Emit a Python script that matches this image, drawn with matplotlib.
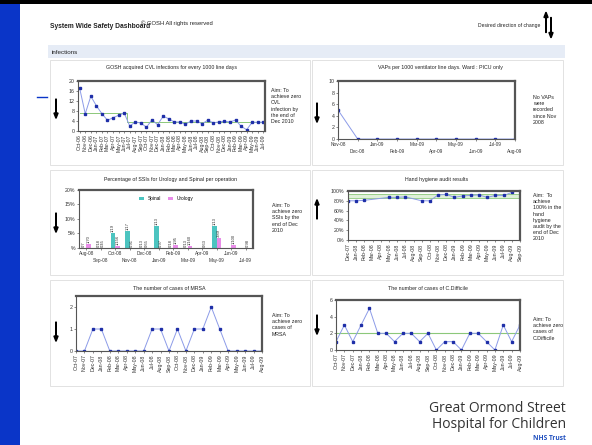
import numpy as np
import matplotlib
matplotlib.use('Agg')
from matplotlib import pyplot as plt
from matplotlib.patches import Rectangle, FancyArrow

plt.rcParams['font.family'] = ['Liberation Sans', 'DejaVu Sans']

W, H = 592, 445

# data
cvl_months = ['Oct-06', 'Nov-06', 'Dec-06', 'Jan-07', 'Feb-07', 'Mar-07', 'Apr-07', 'May-07',
              'Jun-07', 'Jul-07', 'Aug-07', 'Sep-07', 'Oct-07', 'Nov-07', 'Dec-07', 'Jan-08',
              'Feb-08', 'Mar-08', 'Apr-08', 'May-08', 'Jun-08', 'Jul-08', 'Aug-08', 'Sep-08',
              'Oct-08', 'Nov-08', 'Dec-08', 'Jan-09', 'Feb-09', 'Mar-09', 'Apr-09', 'May-09',
              'Jun-09', 'Jul-09']
cvl_rate = [17.1, 6.9, 13.9, 10.1, 6.9, 4.3, 5.3, 6.3, 7.2, 2.0, 3.6, 3.2, 1.5, 4.5, 2.5, 5.9,
            4.9, 3.6, 3.6, 2.7, 4.0, 4.0, 2.9, 4.3, 3.3, 3.6, 3.9, 3.6, 4.4, 1.9, 0.5, 3.5,
            3.5, 3.5]
cvl_mean = [7.0] * 9 + [3.5] * 25

vap_months = ['Nov-08', 'Dec-08', 'Jan-09', 'Feb-09', 'Mar-09', 'Apr-09', 'May-09', 'Jun-09',
              'Jul-09', 'Aug-09']
vap_rate = [5, 0, 0, 0, 0, 0, 0, 0, 0, 0]

ssi_months = ['Aug-08', 'Sep-08', 'Oct-08', 'Nov-08', 'Dec-08', 'Jan-09', 'Feb-09', 'Mar-09',
              'Apr-09', 'May-09', 'Jun-09', 'Jul-09']
spinal_inf = [0, 0, 1, 1, 0, 1, 0, 0, 0, 1, 0, 0]
spinal_ops = [7, 18, 19, 17, 13, 13, 18, 13, 0, 13, 0, 0]
uro_inf = [1, 0, 1, 0, 0, 0, 1, 1, 0, 3, 1, 0]
uro_ops = [70, 45, 156, 91, 65, 97, 95, 160, 63, 89, 100, 98]

hh_months = ['Dec-07', 'Jan-08', 'Feb-08', 'Mar-08', 'Apr-08', 'May-08', 'Jun-08', 'Jul-08',
             'Aug-08', 'Sep-08', 'Oct-08', 'Nov-08', 'Dec-08', 'Jan-09', 'Feb-09', 'Mar-09',
             'Apr-09', 'May-09', 'Jun-09', 'Jul-09', 'Aug-09', 'Sep-09']
hh_score = [80, 80, 81, None, None, 87, 87, 88, None, 80, 80, 92, 93, 87, 90, 91, 92, 87,
            91, 91, 97, None]
hh_band = (85, 93)

mrsa_months = ['Oct-07', 'Nov-07', 'Dec-07', 'Jan-08', 'Feb-08', 'Mar-08', 'Apr-08', 'May-08',
               'Jun-08', 'Jul-08', 'Aug-08', 'Sep-08', 'Oct-08', 'Nov-08', 'Dec-08', 'Jan-09',
               'Feb-09', 'Mar-09', 'Apr-09', 'May-09', 'Jun-09', 'Jul-09', 'Aug-09']
mrsa_cases = [0, 0, 1, 1, 0, 0, 0, 0, 0, 1, 1, 0, 1, 0, 1, 1, 2, 1, 0, 0, 0, 0, 0]
cdiff_cases = [1, 3, 1, 3, 5, 2, 2, 1, 2, 2, 1, 2, 0, 1, 1, 0, 2, 2, 1, 0, 3, 1, 3]
cdiff_mean = 2

LINE = '#8c9be8'
MARK = '#1f2fa8'
GREEN = '#8cc87a'
FS = 3.8

fig = plt.figure(figsize=(W / 100, H / 100), dpi=100)
fig.patch.set_facecolor('white')


def px(x0, y0, x1, y1):
    return [x0 / W, 1 - y1 / H, (x1 - x0) / W, (y1 - y0) / H]


def box(x0, y0, x1, y1, fc='white', ec='#dddddd'):
    fig.patches.append(Rectangle((x0 / W, 1 - y1 / H), (x1 - x0) / W, (y1 - y0) / H,
                                 transform=fig.transFigure, fc=fc, ec=ec, lw=0.6, zorder=-5))


def txt(x, y, s, **kw):
    kw.setdefault('fontsize', FS)
    kw.setdefault('color', '#222222')
    fig.text(x / W, 1 - y / H, s, **kw)


def style(ax):
    for s in ax.spines.values():
        s.set_color('#555555')
        s.set_linewidth(0.8)
    ax.spines['top'].set_linewidth(1.6)
    ax.spines['right'].set_linewidth(1.6)
    ax.tick_params(labelsize=FS, length=1.5, width=0.4, pad=1, colors='#333333')


def stagger(ax, x, labels, fs=3.4):
    # two rows of month labels, alternating
    ax.set_xticks(x[::2])
    ax.set_xticklabels(labels[::2], fontsize=fs)
    ax.set_xticks(x[1::2], minor=True)
    ax.set_xticklabels(labels[1::2], minor=True, fontsize=fs)
    ax.tick_params(axis='x', which='minor', length=1.5, width=0.4, pad=1 + fs * 1.35, colors='#333333')


def arrow(x, y, up=False, size=14):
    if up:
        a = FancyArrow(x / W, 1 - (y + size / 2) / H, 0, size / H, width=0.0008, head_width=0.007,
                       head_length=0.012, transform=fig.transFigure, color='black')
    else:
        a = FancyArrow(x / W, 1 - (y - size / 2) / H, 0, -size / H, width=0.0008, head_width=0.007,
                       head_length=0.012, transform=fig.transFigure, color='black')
    fig.patches.append(a)


# slide frame
fig.patches.append(Rectangle((0, 0), 20 / W, 1, transform=fig.transFigure, fc='#0a35c8', ec='none'))
fig.patches.append(Rectangle((0, 1 - 4 / H), 1, 4 / H, transform=fig.transFigure, fc='black', ec='none'))
fig.lines.append(plt.Line2D([37 / W, 47 / W], [1 - 97 / H, 1 - 97 / H], transform=fig.transFigure,
                            color='#0a35c8', lw=1))

# header
txt(50, 26, 'System Wide Safety Dashboard', fontsize=4.8, fontweight='bold', va='center')
txt(141, 23, '\u00a9 GOSH All rights reserved', fontsize=4.2, va='center')
txt(540, 26, 'Desired direction of change', fontsize=3.6, ha='right', va='center')
arrow(546, 25, up=True, size=15)
arrow(551, 25, size=15)
box(48, 45, 565, 58, fc='#e6ecf6', ec='none')
txt(52, 52, 'infections', fontsize=4.5, va='center')

# panel frames
box(50, 60, 310, 165)
box(312, 60, 563, 165)
box(50, 170, 310, 275)
box(312, 170, 563, 275)
box(50, 280, 310, 386)
box(312, 280, 563, 386)

# CVL
ax = fig.add_axes(px(78, 81, 265, 131))
x = np.arange(len(cvl_rate))
ax.plot(x, cvl_mean, color=GREEN, lw=0.7, drawstyle='steps-mid')
ax.plot(x, cvl_rate, color=LINE, lw=0.7, marker='s', ms=1.6, mfc=MARK, mec=MARK)
ax.set_xlim(-0.3, len(x) - 0.7)
ax.set_ylim(0, 20)
ax.set_yticks(range(0, 21, 4))
ax.set_xticks(x)
ax.set_xticklabels(cvl_months, rotation=90, fontsize=3)
style(ax)
txt(171, 67, 'GOSH acquired CVL infections for every 1000 line days', ha='center', va='center')
txt(271, 88, 'Aim: To\nachieve zero\nCVL\ninfection by\nthe end of\nDec 2010', va='top', linespacing=1.3)
arrow(56, 106)

# VAP
ax = fig.add_axes(px(338, 81, 515, 139))
x = np.arange(len(vap_rate))
ax.plot(x, vap_rate, color=LINE, lw=0.7, marker='s', ms=1.6, mfc=MARK, mec=MARK)
ax.set_xlim(0, len(x) - 1)
ax.set_ylim(0, 10)
ax.set_yticks(range(0, 11, 2))
style(ax)
stagger(ax, x, vap_months)
txt(440, 67, 'VAPs per 1000 ventilator line days. Ward : PICU only', ha='center', va='center')
txt(533, 95, 'No VAPs\nwere\nrecorded\nsince Nov\n2008', va='top', linespacing=1.3)
arrow(317, 110)

# SSI
ax = fig.add_axes(px(79, 190, 253, 248))
x = np.arange(len(ssi_months))
sp = [i / o if o else 0 for i, o in zip(spinal_inf, spinal_ops)]
ur = [i / o if o else 0 for i, o in zip(uro_inf, uro_ops)]
ax.bar(x - 0.15, sp, width=0.3, color='#4cc4c0', label='Spinal')
ax.bar(x + 0.15, ur, width=0.3, color='#e88ce8', label='Urology')
for k in range(len(x)):
    if spinal_ops[k]:
        ax.text(x[k] - 0.15, sp[k] + 0.003, '%d/%d' % (spinal_inf[k], spinal_ops[k]), rotation=90,
                ha='center', va='bottom', fontsize=3, color='#333333')
    ax.text(x[k] + 0.15, ur[k] + 0.003, '%d/%d' % (uro_inf[k], uro_ops[k]), rotation=90,
            ha='center', va='bottom', fontsize=3, color='#333333')
ax.set_xlim(-0.5, len(x) - 0.5)
ax.set_ylim(0, 0.2)
ax.set_yticks([0, 0.05, 0.1, 0.15, 0.2])
ax.set_yticklabels(['%', '5%', '10%', '15%', '20%'])
style(ax)
stagger(ax, x, ssi_months)
ax.legend(loc='upper center', ncol=2, frameon=False, fontsize=3.4, handlelength=1, handleheight=0.8,
          bbox_to_anchor=(0.5, 0.97), columnspacing=1.5)
txt(171, 179, 'Percentage of SSIs for Urology and Spinal per operation', ha='center', va='center')
txt(272, 203, 'Aim: To\nachieve zero\nSSIs by the\nend of Dec\n2010', va='top', linespacing=1.3)
arrow(56, 220)

# hand hygiene
ax = fig.add_axes(px(348, 191, 520, 240))
x = np.arange(len(hh_months))
hy = np.array([np.nan if v is None else v for v in hh_score], dtype=float) / 100
ok = ~np.isnan(hy)
ax.axhspan(hh_band[0] / 100, hh_band[1] / 100, color='#dff0d8', lw=0)
ax.axhline(hh_band[0] / 100, color=GREEN, lw=0.6)
ax.axhline(hh_band[1] / 100, color=GREEN, lw=0.6)
ax.plot(x[ok], hy[ok], color=LINE, lw=0.7, marker='s', ms=1.6, mfc=MARK, mec=MARK)
ax.set_xlim(0, len(x) - 1)
ax.set_ylim(0, 1)
ax.set_yticks(np.arange(0, 1.01, 0.2))
ax.set_yticklabels(['0%', '20%', '40%', '60%', '80%', '100%'])
ax.set_xticks(x)
ax.set_xticklabels(hh_months, rotation=90, fontsize=3.2)
style(ax)
txt(437, 179, 'Hand hygiene audit results', ha='center', va='center')
txt(533, 193, 'Aim:  To\nachieve\n100% in the\nhand\nhygiene\naudit by the\nend of Dec\n2010', va='top',
    linespacing=1.3)
arrow(317, 212, up=True)

# MRSA
ax = fig.add_axes(px(76, 296, 262, 351))
x = np.arange(len(mrsa_cases))
ax.axhline(0, color=GREEN, lw=0.8)
ax.plot(x, mrsa_cases, color=LINE, lw=0.7, marker='s', ms=1.6, mfc=MARK, mec=MARK)
ax.set_xlim(0, len(x) - 1)
ax.set_ylim(0, 2.5)
ax.set_yticks([0, 1, 2])
ax.set_xticks(x)
ax.set_xticklabels(mrsa_months, rotation=90, fontsize=3.2)
style(ax)
txt(169, 289, 'The number of cases of MRSA', ha='center', va='center')
txt(272, 313, 'Aim: To\nachieve zero\ncases of\nMRSA', va='top', linespacing=1.3)
arrow(56, 329)

# C.Difficile
ax = fig.add_axes(px(336, 300, 520, 350))
x = np.arange(len(cdiff_cases))
ax.axhline(cdiff_mean, color=GREEN, lw=0.8)
ax.plot(x, cdiff_cases, color=LINE, lw=0.7, marker='s', ms=1.6, mfc=MARK, mec=MARK)
ax.set_xlim(0, len(x) - 1)
ax.set_ylim(0, 6)
ax.set_yticks(range(0, 7, 2))
ax.set_xticks(x)
ax.set_xticklabels(mrsa_months, rotation=90, fontsize=3.2)
style(ax)
txt(428, 289, 'The number of cases of C.Difficile', ha='center', va='center')
txt(533, 317, 'Aim: To\nachieve zero\ncases of\nC.Difficile', va='top', linespacing=1.3)
arrow(317, 322)

# footer
txt(566, 408, 'Great Ormond Street', fontsize=10, ha='right', va='center', color='#333333',
    family='Open Sans')
txt(566, 424, 'Hospital for Children', fontsize=10, ha='right', va='center', color='#333333',
    family='Open Sans')
txt(566, 438, 'NHS Trust', fontsize=4.8, ha='right', va='center', color='#1f4fbf', fontweight='bold',
    family='Open Sans')

fig.savefig('out.png', dpi=100)
